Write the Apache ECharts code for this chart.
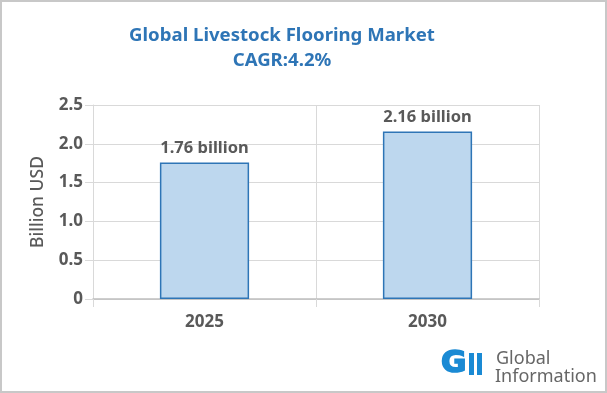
<!DOCTYPE html>
<html><head><meta charset="utf-8">
<script src="https://cdn.jsdelivr.net/npm/echarts@6/dist/echarts.min.js"></script>
<style>html,body{margin:0;padding:0;background:#fff}#c{width:607px;height:393px;box-sizing:border-box;border:2px solid #c8c8c8}</style>
</head><body><div id="c"></div>
<script>
const categories = ['2025', '2030'];
const values = [1.76, 2.16];
const valueLabels = ['1.76 billion', '2.16 billion'];
const yTicks = [0, 0.5, 1.0, 1.5, 2.0, 2.5];
const titleText = 'Global Livestock Flooring Market';
const subtitleText = 'CAGR:4.2%';
const yAxisName = 'Billion USD';

const chart = echarts.init(document.getElementById('c'), null, {renderer: 'canvas'});
const F = '"Noto Sans", Roboto, sans-serif';
chart.setOption({
  animation: false,
  grid: {left: 91, right: 66, top: 103, bottom: 92},
  xAxis: {
    type: 'category', data: categories,
    axisLine: {lineStyle: {color: '#bfbfbf', width: 1.5}},
    axisTick: {show: true, length: 8, lineStyle: {color: '#d9d9d9'}},
    splitLine: {show: true, lineStyle: {color: '#d9d9d9'}},
    axisLabel: {fontFamily: F, fontSize: 17, fontWeight: 'bold', color: '#595959', margin: 15}
  },
  yAxis: {
    type: 'value', min: 0, max: 2.5, interval: 0.5,
    name: yAxisName, nameLocation: 'middle', nameGap: 46, nameRotate: 90,
    nameTextStyle: {fontFamily: F, fontSize: 17.5, color: '#595959', fontWeight: 500},
    axisLine: {show: true, lineStyle: {color: '#d9d9d9'}},
    axisTick: {show: true, length: 8, lineStyle: {color: '#d9d9d9'}},
    splitLine: {show: true, lineStyle: {color: '#d9d9d9'}},
    axisLabel: {fontFamily: F, fontSize: 17, fontWeight: 'bold', color: '#595959', margin: 10,
      formatter: v => { const t = yTicks.find(x => Math.abs(x - v) < 1e-9); return t === 0 ? '0' : t.toFixed(1); }}
  },
  series: [{
    type: 'bar', data: values, barWidth: '40%',
    itemStyle: {color: '#bdd7ee', borderColor: '#2e75b6', borderWidth: 1.5},
    label: {show: true, position: 'top', distance: 6, fontFamily: F, fontSize: 16.5, fontWeight: 'bold', color: '#595959',
      formatter: p => valueLabels[p.dataIndex]}
  }],
  graphic: [
    {type: 'text', x: 280, y: 34, style: {text: titleText, align: 'center', verticalAlign: 'middle', fontFamily: F, fontSize: 18.6, fontWeight: 'bold', fill: '#2e75b6'}},
    {type: 'text', x: 280, y: 59, style: {text: subtitleText, align: 'center', verticalAlign: 'middle', fontFamily: F, fontSize: 18.6, fontWeight: 'bold', fill: '#2e75b6'}},
    {type: 'text', x: 439, y: 362, style: {text: 'G', verticalAlign: 'middle', fontFamily: '"DejaVu Sans", sans-serif', fontSize: 31, fontWeight: 'bold', fill: '#1a8ad4', stroke: '#1a8ad4', lineWidth: 1.6}},
    {type: 'rect', shape: {x: 467, y: 351, width: 5, height: 22}, style: {fill: '#1a8ad4'}},
    {type: 'rect', shape: {x: 475, y: 351, width: 5, height: 22}, style: {fill: '#1a8ad4'}},
    {type: 'text', x: 494, y: 357, style: {text: 'Global', verticalAlign: 'middle', fontFamily: F, fontSize: 18, fill: '#666666'}},
    {type: 'text', x: 493, y: 375, style: {text: 'Information', verticalAlign: 'middle', fontFamily: F, fontSize: 18, fill: '#666666'}}
  ]
});
</script></body></html>
